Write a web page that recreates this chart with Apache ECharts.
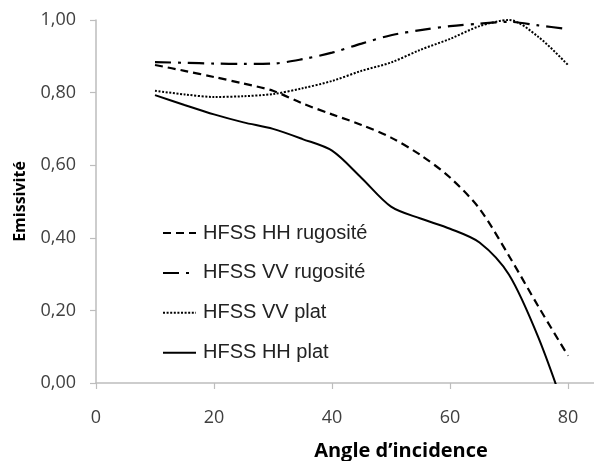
<!DOCTYPE html>
<html>
<head>
<meta charset="utf-8">
<script src="https://cdn.jsdelivr.net/npm/echarts@6/dist/echarts.min.js"></script>
<style>
html,body{margin:0;padding:0;background:#fff;}
#chart{width:594px;height:461px;}
</style>
</head>
<body>
<div id="chart"></div>
<script>
const angles = [10, 15, 20, 25, 30, 35, 40, 45, 50, 55, 60, 65, 70, 75, 80];
const hhRugosite = [0.876, 0.86, 0.843, 0.825, 0.805, 0.77, 0.74, 0.711, 0.676, 0.628, 0.566, 0.48, 0.35, 0.21, 0.075];
const vvRugosite = [0.884, 0.882, 0.88, 0.879, 0.88, 0.892, 0.91, 0.935, 0.958, 0.972, 0.983, 0.99, 0.995, 0.985, 0.975];
const vvPlat = [0.805, 0.795, 0.788, 0.79, 0.796, 0.812, 0.832, 0.86, 0.883, 0.918, 0.948, 0.983, 1.0, 0.953, 0.876];
const hhPlat = [0.793, 0.766, 0.74, 0.718, 0.70, 0.672, 0.64, 0.565, 0.486, 0.453, 0.425, 0.387, 0.298, 0.124, -0.1];
const xTicks = [0, 20, 40, 60, 80];
const seriesNames = ['HFSS HH rugosité', 'HFSS VV rugosité', 'HFSS VV plat', 'HFSS HH plat'];

const pairs = arr => angles.map((a, i) => [a, arr[i]]);
const chart = echarts.init(document.getElementById('chart'), null, {renderer: 'canvas'});
const lbl = '#404040';
const axisGray = '#bdbdbd';
const mk = (name, data, dash, w) => ({
  name, type: 'line', data: pairs(data), smooth: 0.3, symbol: 'none', clip: true,
  lineStyle: {color: '#000', width: w, type: dash, cap: 'butt'},
  itemStyle: {color: '#000'}
});
chart.setOption({
  animation: false,
  backgroundColor: '#fff',
  grid: {left: 96, right: 0, top: 20, bottom: 78, containLabel: false, outerBoundsMode: 'none'},
  legend: {
    orient: 'vertical', left: 157, top: 218, itemWidth: 33, itemHeight: 20, itemGap: 19.9,
    data: seriesNames,
    itemStyle: {opacity: 0},
    textStyle: {fontFamily: 'Liberation Sans', fontSize: 20, color: '#222', padding: [0, 0, 0, 2]}
  },
  xAxis: {
    type: 'value', min: 0, max: 84.4,
    name: 'Angle d\u2019incidence', nameLocation: 'middle', nameGap: 58,
    nameTextStyle: {fontFamily: 'Open Sans', fontWeight: 'bold', fontSize: 20, color: '#000', padding: [0, 0, 0, 112]},
    axisLine: {show: true, lineStyle: {color: axisGray, width: 1.5}},
    axisTick: {show: true, inside: false, length: 6, lineStyle: {color: axisGray, width: 1.2}, customValues: xTicks},
    axisLabel: {fontFamily: 'Open Sans', fontSize: 18, color: lbl, margin: 26, customValues: xTicks},
    splitLine: {show: false}
  },
  yAxis: {
    type: 'value', min: 0, max: 1, interval: 0.2,
    name: 'Emissivité', nameLocation: 'middle', nameGap: 68, nameRotate: 90,
    nameTextStyle: {fontFamily: 'Open Sans', fontWeight: 'bold', fontSize: 16, color: '#000'},
    axisLine: {show: true, lineStyle: {color: axisGray, width: 1.5}},
    axisTick: {show: true, inside: false, length: 6, lineStyle: {color: axisGray, width: 1.2}},
    axisLabel: {fontFamily: 'Open Sans', fontSize: 18, color: lbl, margin: 20,
      formatter: v => v.toFixed(2).replace('.', ',')},
    splitLine: {show: false}
  },
  series: [
    mk(seriesNames[0], hhRugosite, [8, 5], 2.2),
    mk(seriesNames[1], vvRugosite, [16, 7, 3, 7], 2.2),
    mk(seriesNames[2], vvPlat, [2, 1.6], 2),
    mk(seriesNames[3], hhPlat, 'solid', 2)
  ]
});
</script>
</body>
</html>
